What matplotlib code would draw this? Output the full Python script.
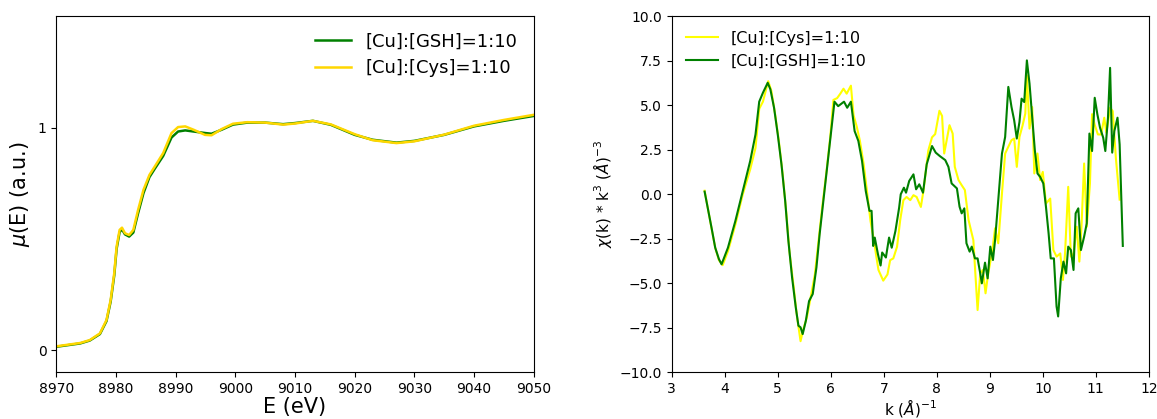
import numpy as np
import matplotlib
matplotlib.use('Agg')
import matplotlib.pyplot as plt

# XANES (normalized mu(E))
e_gsh = [8970, 8974, 8975.6, 8977.3, 8978.4, 8979.1, 8979.7, 8980.1, 8980.6, 8981.0,
         8981.5, 8982.2, 8982.9, 8983.7, 8984.6, 8985.6, 8986.5, 8987.9, 8989.3,
         8990.4, 8991.6, 8993, 8995, 8996, 8997.7, 8999.6, 9002, 9005, 9008, 9010,
         9013, 9016, 9020, 9023, 9027, 9030, 9035, 9040, 9045, 9050]
mu_gsh = [0.015, 0.03, 0.043, 0.072, 0.13, 0.218, 0.335, 0.455, 0.53, 0.542,
          0.52, 0.51, 0.528, 0.615, 0.705, 0.777, 0.815, 0.872, 0.955,
          0.982, 0.987, 0.982, 0.975, 0.972, 0.99, 1.013, 1.022, 1.022, 1.015, 1.02,
          1.03, 1.012, 0.967, 0.945, 0.932, 0.94, 0.967, 1.005, 1.03, 1.052]
e_cys = [8970, 8974, 8975.6, 8977.3, 8978.4, 8979.1, 8979.7, 8980.1, 8980.6, 8981.0,
         8981.5, 8982.2, 8982.9, 8983.7, 8984.6, 8985.6, 8986.5, 8987.9, 8989.3,
         8990.4, 8991.6, 8993, 8994.9, 8996, 8997.7, 8999.6, 9002, 9005, 9008, 9010,
         9013, 9016, 9020, 9023, 9027, 9030, 9035, 9040, 9045, 9050]
mu_cys = [0.017, 0.032, 0.045, 0.075, 0.135, 0.225, 0.345, 0.465, 0.54, 0.55,
          0.525, 0.517, 0.54, 0.63, 0.72, 0.787, 0.825, 0.885, 0.975,
          1.002, 1.005, 0.99, 0.967, 0.965, 0.993, 1.017, 1.024, 1.022, 1.013, 1.018,
          1.03, 1.014, 0.97, 0.943, 0.93, 0.938, 0.968, 1.008, 1.034, 1.057]

# EXAFS chi(k)*k^3
k_gsh = [3.62, 3.75, 3.82, 3.89, 3.94, 4.06, 4.2, 4.34, 4.48, 4.58, 4.65, 4.72, 4.81,
         4.86, 4.93, 5.0, 5.07, 5.14, 5.2, 5.27, 5.34, 5.39, 5.43, 5.47, 5.53, 5.59,
         5.66, 5.73, 5.79, 5.86, 5.93, 6.0, 6.07, 6.14, 6.25, 6.31, 6.38, 6.45, 6.52,
         6.59, 6.66, 6.73, 6.77, 6.8, 6.83, 6.89, 6.94, 6.97, 7.04, 7.1, 7.15, 7.22,
         7.29, 7.32, 7.38, 7.42, 7.48, 7.56, 7.61, 7.67, 7.74, 7.81, 7.91, 7.98,
         8.06, 8.16, 8.22, 8.28, 8.38, 8.43, 8.47, 8.52, 8.56, 8.62, 8.66, 8.72,
         8.77, 8.82, 8.85, 8.91, 8.96, 9.01, 9.06, 9.1, 9.16, 9.23, 9.29, 9.35,
         9.41, 9.46, 9.51, 9.56, 9.6, 9.65, 9.7, 9.75, 9.8, 9.85, 9.9, 9.95, 10.01,
         10.06, 10.11, 10.15, 10.21, 10.26, 10.29, 10.34, 10.39, 10.44, 10.48,
         10.53, 10.58, 10.62, 10.67, 10.72, 10.78, 10.83, 10.88, 10.93, 10.98,
         11.03, 11.08, 11.14, 11.18, 11.23, 11.27, 11.31, 11.35, 11.41, 11.45, 11.51]
chi_gsh = [0.15, -1.87, -3.0, -3.64, -3.93, -3.0, -1.5, 0.19, 1.87, 3.36, 5.2, 5.7, 6.26,
           5.9, 4.86, 3.36, 1.68, -0.37, -2.6, -4.67, -6.36, -7.38, -7.47, -7.85, -7.1,
           -6.0, -5.6, -4.1, -2.24, -0.37, 1.5, 3.36, 5.2, 4.95, 5.2, 4.86, 5.2, 3.55,
           3.0, 1.87, 0.19, -0.93, -0.93, -2.9, -2.43, -3.36, -4.0, -3.27, -3.55,
           -2.43, -3.0, -2.06, -0.75, 0.0, 0.37, 0.09, 0.75, 1.12, 0.28, 0.56, 0.09,
           1.68, 2.71, 2.34, 2.14, 1.92, 1.54, 0.61, 0.33, -0.7, -1.07, -0.79, -2.75,
           -3.22, -2.94, -3.6, -3.6, -4.44, -5.0, -3.84, -4.72, -2.94, -3.69, -2.57,
           -0.33, 2.29, 3.22, 6.03, 4.9, 4.16, 3.13, 4.06, 5.37, 5.18, 7.52, 6.21,
           4.34, 2.48, 1.17, 0.98, 0.61, -0.7, -2.2, -3.6, -3.6, -6.3, -6.86, -4.72,
           -3.78, -4.44, -2.94, -3.13, -4.25, -1.07, -0.79, -3.13, -2.38, -1.63,
           3.41, 2.43, 5.42, 4.49, 3.74, 3.18, 2.43, 4.3, 7.1, 2.34, 3.55, 4.3, 2.8,
           -2.9]
k_cys = [3.62, 3.75, 3.82, 3.89, 3.96, 4.06, 4.2, 4.34, 4.48, 4.58, 4.65, 4.72, 4.82,
         4.88, 4.95, 5.02, 5.09, 5.16, 5.22, 5.3, 5.36, 5.43, 5.48, 5.55, 5.62, 5.7,
         5.77, 5.84, 5.92, 5.99, 6.05, 6.12, 6.18, 6.24, 6.3, 6.38, 6.43, 6.49, 6.55,
         6.62, 6.69, 6.75, 6.82, 6.86, 6.9, 6.99, 7.07, 7.12, 7.18, 7.25, 7.31, 7.37,
         7.43, 7.5, 7.56, 7.62, 7.7, 7.75, 7.84, 7.91, 7.97, 8.05, 8.1, 8.14, 8.24,
         8.3, 8.34, 8.41, 8.47, 8.53, 8.6, 8.66, 8.69, 8.72, 8.77, 8.82, 8.87, 8.92,
         8.97, 9.04, 9.1, 9.16, 9.23, 9.29, 9.35, 9.41, 9.46, 9.51, 9.56, 9.62, 9.67,
         9.7, 9.75, 9.8, 9.84, 9.9, 9.95, 10.0, 10.06, 10.14, 10.2, 10.26, 10.33,
         10.38, 10.42, 10.48, 10.53, 10.58, 10.64, 10.69, 10.73, 10.78, 10.83, 10.89,
         10.93, 10.98, 11.04, 11.1, 11.16, 11.2, 11.27, 11.32, 11.38, 11.45]
chi_cys = [0.2, -1.9, -3.0, -3.7, -3.98, -3.2, -1.7, 0.0, 1.4, 2.6, 4.8, 5.2, 6.35,
           5.8, 4.5, 3.0, 1.2, -1.0, -3.2, -5.2, -6.8, -8.25, -7.6, -6.9, -5.8, -4.5,
           -2.6, -0.7, 1.3, 3.2, 5.3, 5.4, 5.65, 5.93, 5.65, 6.1, 4.44, 3.8, 3.0, 1.7,
           0.0, -1.5, -2.7, -3.5, -4.25, -4.85, -4.5, -3.7, -3.6, -2.95, -1.45, -0.33,
           -0.15, -0.33, -0.05, -0.15, -0.71, 0.22, 2.46, 3.2, 3.38, 4.69, 4.4, 2.29,
           3.88, 3.41, 1.54, 0.8, 0.51, 0.24, -1.45, -2.2, -2.57, -4.06, -6.5, -4.44,
           -4.25, -5.56, -4.44, -3.32, -1.91, -2.75, 0.05, 2.29, 2.67, 3.04, 3.13,
           1.54, 3.22, 3.88, 4.53, 6.68, 3.69, 4.9, 1.17, 2.29, 0.8, 1.26, -0.52,
           -0.24, -3.13, -3.5, -3.32, -4.81, -3.32, 0.42, -3.5, -3.32, -1.82, -3.78,
           -1.82, 1.73, -1.82, 0.61, 4.5, 3.9, 3.36, 3.36, 4.3, 3.46, 4.86, 4.67, 2.0,
           -0.3]

fig = plt.figure(figsize=(11.57, 4.19), dpi=100)

# left: XANES
ax1 = fig.add_axes([0.0487, 0.1113, 0.4126, 0.850])
ax1.plot(e_gsh, mu_gsh, color='green', linewidth=1.8, label='[Cu]:[GSH]=1:10')
ax1.plot(e_cys, mu_cys, color='gold', linewidth=1.8, label='[Cu]:[Cys]=1:10')
ax1.set_xlim(8970, 9050)
ax1.set_ylim(-0.1, 1.5)
ax1.set_yticks([0, 1])
ax1.set_xlabel('E (eV)', fontsize=15, labelpad=1)
ax1.set_ylabel(r'$\mu$(E) (a.u.)', fontsize=15)
ax1.legend(loc='upper right', frameon=False, fontsize=13)

# right: EXAFS
ax2 = fig.add_axes([0.5806, 0.1113, 0.4123, 0.850])
ax2.plot(k_cys, chi_cys, color='yellow', linewidth=1.5, label='[Cu]:[Cys]=1:10')
ax2.plot(k_gsh, chi_gsh, color='green', linewidth=1.5, label='[Cu]:[GSH]=1:10')
ax2.set_xlim(3, 12)
ax2.set_ylim(-10, 10)
ax2.set_xlabel(r'k ($\AA$)$^{-1}$', fontsize=11, labelpad=1)
ax2.set_ylabel(r'$\chi$(k) * k$^3$ ($\AA$)$^{-3}$', fontsize=11)
ax2.legend(loc='upper left', frameon=False, fontsize=11.5)

plt.savefig('out.png', dpi=100)
